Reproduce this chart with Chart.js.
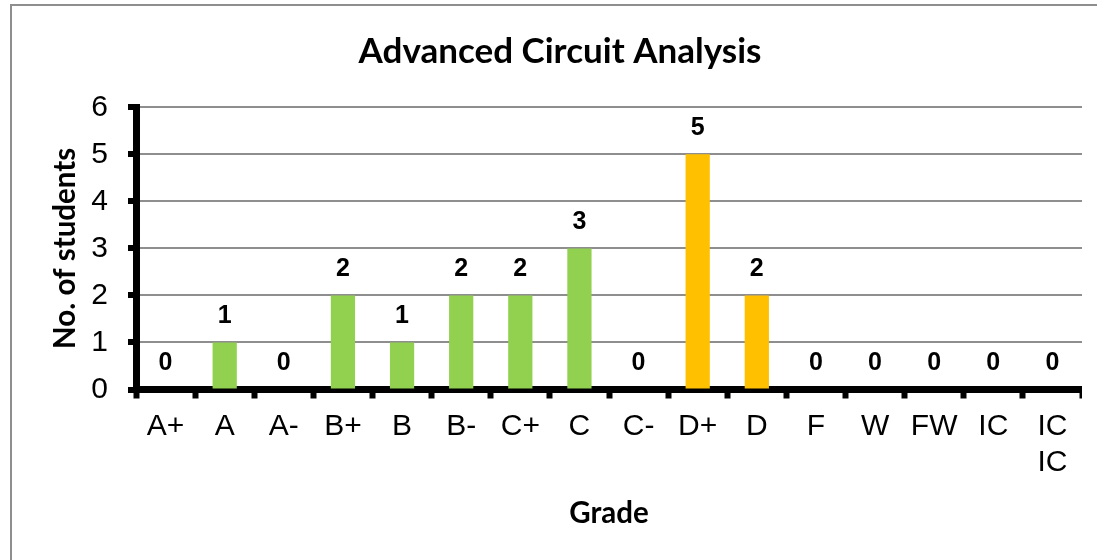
<!DOCTYPE html>
<html>
<head>
<meta charset="utf-8">
<script src="https://cdn.jsdelivr.net/npm/chart.js@4/dist/chart.umd.min.js"></script>
<style>
  html, body { margin: 0; padding: 0; width: 1097px; height: 560px; overflow: hidden; background: #fff; }
  #frame { position: absolute; left: 10px; top: 4px; width: 1200px; height: 700px; border: 2px solid #8e8e8e; }
  #wrap { position: absolute; left: 38px; top: 0; width: 1044px; height: 560px; }
</style>
</head>
<body>
<div id="frame"></div>
<div id="wrap"><canvas id="grafNotas" width="1044" height="560"></canvas></div>
<script>
const grades = ['A+', 'A', 'A-', 'B+', 'B', 'B-', 'C+', 'C', 'C-', 'D+', 'D', 'F', 'W', 'FW', 'IC', ['IC', 'IC']];
const students = [0, 1, 0, 2, 1, 2, 2, 3, 0, 5, 2, 0, 0, 0, 0, 0];
const barColors = ['#92D050', '#92D050', '#92D050', '#92D050', '#92D050', '#92D050', '#92D050', '#92D050', '#92D050',
                   '#FFC000', '#FFC000', '#92D050', '#92D050', '#92D050', '#92D050', '#92D050'];
const yTicks = [0, 1, 2, 3, 4, 5, 6];

// numbers above each bar
const etiquetasValor = {
    id: 'etiquetasValor',
    afterDatasetsDraw(chart) {
        const ctx = chart.ctx;
        const meta = chart.getDatasetMeta(0);
        ctx.save();
        ctx.font = 'bold 25px "Liberation Sans"';
        ctx.fillStyle = '#000';
        ctx.textAlign = 'center';
        ctx.textBaseline = 'middle';
        meta.data.forEach((bar, i) => {
            ctx.fillText(String(students[i]), bar.x, bar.y - 26);
        });
        ctx.restore();
    }
};

document.addEventListener('DOMContentLoaded', () => {
    new Chart(document.getElementById('grafNotas'), {
        type: 'bar',
        plugins: [etiquetasValor],
        data: {
            labels: grades,
            datasets: [{
                label: 'No. of students',
                data: students,
                backgroundColor: barColors,
                borderWidth: 0,
                barPercentage: 0.41,
                categoryPercentage: 1,
            }]
        },
        options: {
            responsive: false,
            animation: false,
            layout: { padding: 0 },
            plugins: {
                legend: { display: false },
                tooltip: { enabled: false },
                title: {
                    display: true,
                    text: 'Advanced Circuit Analysis',
                    color: '#000',
                    font: { family: 'Lato', size: 35, weight: 'bold', lineHeight: 1.2 },
                    padding: { top: 31, bottom: 34.3 },
                },
            },
            scales: {
                x: {
                    grid: {
                        display: true,
                        offset: true,
                        drawOnChartArea: false,
                        drawTicks: true,
                        tickLength: 9,
                        tickColor: '#000',
                        tickWidth: 6,
                    },
                    border: { display: true, color: '#000', width: 7 },
                    ticks: {
                        color: '#000',
                        font: { family: 'Liberation Sans', size: 30, lineHeight: 1.2 },
                        padding: 10,
                        maxRotation: 0,
                        autoSkip: false,
                    },
                    title: {
                        display: true,
                        text: 'Grade',
                        color: '#000',
                        font: { family: 'Lato', size: 29.5, weight: 'bold', lineHeight: 1.2 },
                        padding: { top: 0, bottom: 29.3 },
                    },
                    afterFit(scale) { scale.height = 170.5; },
                },
                y: {
                    min: 0,
                    max: 6,
                    afterBuildTicks(scale) { scale.ticks = yTicks.map(v => ({ value: v })); },
                    grid: {
                        color: '#8e8e8e',
                        lineWidth: 2,
                        tickLength: 8,
                        tickColor: '#000',
                        tickWidth: 6,
                    },
                    border: { display: true, color: '#000', width: 7 },
                    ticks: {
                        color: '#000',
                        font: { family: 'Liberation Sans', size: 30 },
                        padding: 20,
                    },
                    title: {
                        display: true,
                        text: 'No. of students',
                        color: '#000',
                        font: { family: 'Lato', size: 29.5, weight: 'bold', lineHeight: 1.2 },
                        padding: { top: 9.3, bottom: 0 },
                    },
                    afterFit(scale) { scale.width = 98; },
                },
            },
        },
    });
});
</script>
</body>
</html>
